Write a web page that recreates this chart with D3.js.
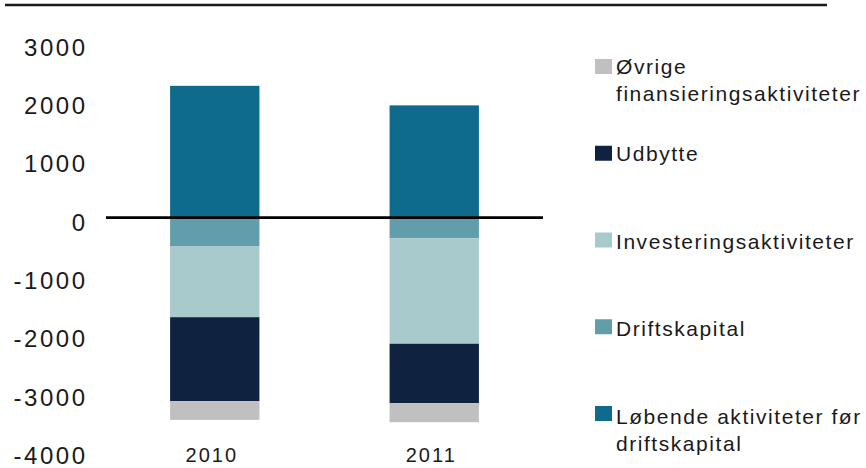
<!DOCTYPE html>
<html>
<head>
<meta charset="utf-8">
<script src="https://cdn.jsdelivr.net/npm/d3@7"></script>
<style>
  body { margin: 0; background: #fff; }
  text { font-family: "Liberation Sans", Arial, sans-serif; fill: #1a1a1a; }
</style>
</head>
<body>
<div id="graph"></div>
<script>
// data (mio. kr.)
var years = ["2010", "2011"];
var lobende = [2260, 1925];          // Løbende aktiviteter før driftskapital
var driftskapital = [-485, -350];
var investering = [-1220, -1810];
var udbytte = [-1440, -1020];
var ovrige = [-320, -325];
var yTicks = [3000, 2000, 1000, 0, -1000, -2000, -3000, -4000];

var seriesKeys = ["lobende", "drift", "invest", "udbytte", "ovrige"];
var seriesLabels = {
    lobende: ["Løbende aktiviteter før", "driftskapital"],
    drift: ["Driftskapital"],
    invest: ["Investeringsaktiviteter"],
    udbytte: ["Udbytte"],
    ovrige: ["Øvrige", "finansieringsaktiviteter"]
};
var colors = {
    lobende: "#0f6b8d",
    drift: "#629dac",
    invest: "#a8cacc",
    udbytte: "#0f2340",
    ovrige: "#c0c0c0"
};

var width = 866;
var height = 468;

var rows = years.map(function (y, i) {
    return {
        year: y,
        lobende: lobende[i],
        drift: driftskapital[i],
        invest: investering[i],
        udbytte: udbytte[i],
        ovrige: ovrige[i]
    };
});

var svg = d3.select("#graph")
    .append("svg")
    .attr("width", width)
    .attr("height", height);

var scaleX = d3.scaleBand()
    .domain(years)
    .range([106, 543])
    .paddingInner(0.593)
    .paddingOuter(0.292);

var scaleY = d3.scaleLinear()
    .domain([-4000, 3000])
    .range([451.1, 42.65]);

var stacked = d3.stack()
    .keys(seriesKeys)
    .offset(d3.stackOffsetDiverging)(rows);

// top rule
svg.append("line")
    .attr("x1", 5).attr("x2", 827)
    .attr("y1", 5).attr("y2", 5)
    .attr("stroke", "#1a1a1a")
    .attr("stroke-width", 2.5);

// bars
svg.append("g")
    .selectAll("g")
    .data(stacked)
    .enter()
    .append("g")
    .attr("fill", function (s) { return colors[s.key]; })
    .selectAll("rect")
    .data(function (s) { return s; })
    .enter()
    .append("rect")
    .attr("x", function (d) { return scaleX(d.data.year); })
    .attr("width", scaleX.bandwidth())
    .attr("y", function (d) { return scaleY(d[1]); })
    .attr("height", function (d) { return scaleY(d[0]) - scaleY(d[1]); });

// zero line
svg.append("line")
    .attr("x1", 106).attr("x2", 543)
    .attr("y1", scaleY(0)).attr("y2", scaleY(0))
    .attr("stroke", "#000")
    .attr("stroke-width", 2.8);

// y axis labels (plain hyphen as in the original)
var yAxis = d3.axisLeft(scaleY)
    .tickValues(yTicks)
    .tickSize(0)
    .tickPadding(18.5)
    .tickFormat(function (d) { return String(d); });

var gy = svg.append("g")
    .attr("transform", "translate(106,0)")
    .call(yAxis);
gy.select(".domain").remove();
gy.selectAll("text")
    .attr("dy", "0.52em")
    .style("font-size", "24px")
    .style("letter-spacing", "2.5px")
    .attr("fill", "#1a1a1a");

// category labels
var xAxis = d3.axisBottom(scaleX)
    .tickSize(0)
    .tickPadding(8);

var gx = svg.append("g")
    .attr("transform", "translate(-3,440)")
    .call(xAxis);
gx.select(".domain").remove();
gx.selectAll("text")
    .style("font-size", "20px")
    .style("letter-spacing", "2px")
    .attr("fill", "#1a1a1a");

// legend
var legendKeys = seriesKeys.slice().reverse();
var legend = svg.append("g")
    .selectAll("g")
    .data(legendKeys)
    .enter()
    .append("g");

legend.append("rect")
    .attr("x", 595)
    .attr("y", function (d, i) { return 59 + i * 86.75; })
    .attr("width", 17)
    .attr("height", 15)
    .attr("fill", function (d) { return colors[d]; });

legend.append("text")
    .attr("x", 616)
    .attr("y", function (d, i) { return 73.5 + i * 87.6; })
    .style("font-size", "21px")
    .style("letter-spacing", "1.55px")
    .selectAll("tspan")
    .data(function (d) { return seriesLabels[d]; })
    .enter()
    .append("tspan")
    .attr("x", 616)
    .attr("dy", function (d, i) { return i === 0 ? 0 : 27.5; })
    .text(function (d) { return d; });
</script>
</body>
</html>
